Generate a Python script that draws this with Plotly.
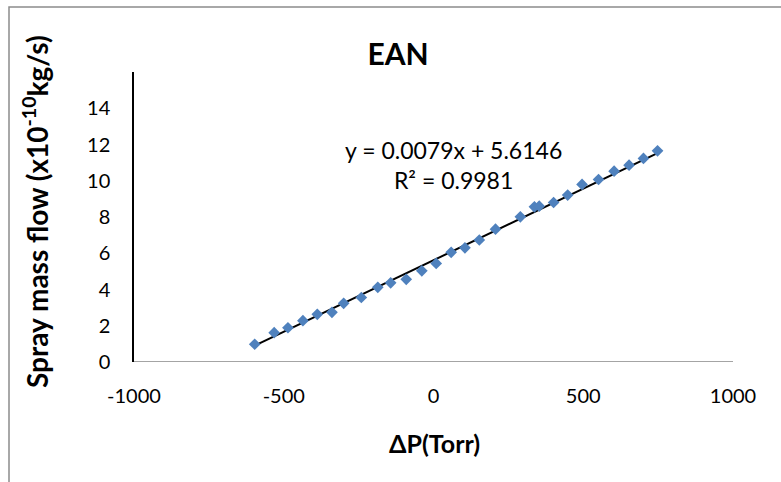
import plotly.graph_objects as go

# Data
dp_torr = [-597, -532, -486, -436, -388, -339, -300, -241, -186, -143, -91, -39, 9,
           59, 105, 153, 207, 290, 337, 353, 401, 448, 496, 551, 603, 653, 701, 748]
mass_flow = [0.98, 1.62, 1.89, 2.28, 2.63, 2.74, 3.24, 3.56, 4.12, 4.37, 4.56, 5.03, 5.44,
             6.05, 6.30, 6.73, 7.33, 8.01, 8.56, 8.60, 8.80, 9.21, 9.80, 10.07, 10.53, 10.86, 11.23, 11.65]
slope = 0.0079
intercept = 5.6146
r_squared = 0.9981
x_ticks = [-1000, -500, 0, 500, 1000]
y_ticks = [0, 2, 4, 6, 8, 10, 12, 14]

FONT = "Lato"

trend_x = [min(dp_torr), max(dp_torr)]
trend_y = [slope * v + intercept for v in trend_x]

fig = go.Figure()
fig.add_trace(go.Scatter(x=trend_x, y=trend_y, mode="lines",
                         line=dict(color="black", width=2), showlegend=False))
fig.add_trace(go.Scatter(x=dp_torr, y=mass_flow, mode="markers",
                         marker=dict(symbol="diamond", size=9, color="#4F81BD"),
                         showlegend=False))

L, R, T, B = 134, 48, 72, 120
W, H = 781, 482
pw, ph = W - L - R, H - T - B

def px_x(px):
    return (px - L) / pw

def px_y(py):
    return (H - B - py) / ph

fig.update_layout(
    width=W, height=H,
    margin=dict(l=L, r=R, t=T, b=B),
    paper_bgcolor="white", plot_bgcolor="white",
    font=dict(family=FONT, color="black", size=20),
    title=dict(text="<b>EAN</b>", x=398 / W, xanchor="center",
               y=1 - 54 / H, yanchor="middle", font=dict(size=30, family=FONT)),
    xaxis=dict(range=[-1000, 1000], tickvals=x_ticks, ticktext=[str(v) for v in x_ticks],
               showgrid=False, zeroline=False, showline=False, ticks="",
               tickfont=dict(size=20), ticklabelstandoff=20),
    yaxis=dict(range=[0, 16], tickvals=y_ticks, showgrid=False, zeroline=False,
               showline=True, linecolor="black", linewidth=1.5, ticks="",
               tickfont=dict(size=20), ticklabelstandoff=18),
    showlegend=False,
)

# gray x-axis line at y=0
fig.add_shape(type="line", xref="x", yref="y", x0=-1000, x1=1000, y0=0, y1=0,
              line=dict(color="#868686", width=1.5))

# outer chart border
fig.add_shape(type="rect", xref="paper", yref="paper",
              x0=px_x(9), x1=px_x(790), y0=px_y(495), y1=px_y(7),
              line=dict(color="#8c8c8c", width=1.5), layer="below")

fig.add_annotation(text="<b>Spray mass flow (x10<sup>-10</sup>kg/s)</b>", textangle=-90,
                   xref="paper", yref="paper", x=px_x(35), y=px_y(212),
                   xanchor="center", yanchor="middle", showarrow=False,
                   font=dict(size=28, family=FONT))
fig.add_annotation(text="<b>ΔP(Torr)</b>", xref="paper", yref="paper",
                   x=px_x(434), y=px_y(443), xanchor="center", yanchor="middle",
                   showarrow=False, font=dict(size=25, family=FONT))
fig.add_annotation(text=f"y = {slope}x + {intercept}<br>R² = {r_squared}",
                   xref="paper", yref="paper", x=px_x(453), y=px_y(165),
                   xanchor="center", yanchor="middle", align="center",
                   showarrow=False, font=dict(size=23, family=FONT))

fig.write_html("out.html")
